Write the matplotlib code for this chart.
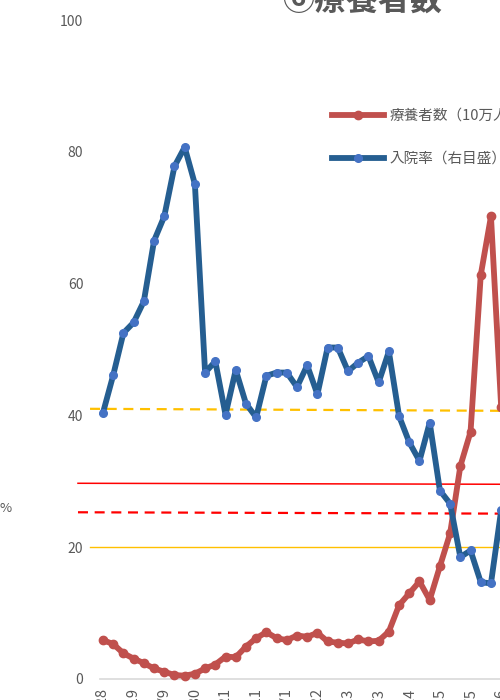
import matplotlib
matplotlib.use("Agg")
import matplotlib.pyplot as plt
import numpy as np

plt.rcParams['font.family'] = ['Noto Sans CJK JP', 'DejaVu Sans']

# ---- data ----
week_labels = ["4/28", "5/19", "6/9", "6/30", "7/21", "8/11", "9/1", "9/22",
               "10/13", "11/3", "11/24", "12/15", "1/5", "1/26"]
patients_per_100k = [5.9, 5.3, 3.9, 3.1, 2.4, 1.6, 1.1, 0.6, 0.5, 0.8,
                     1.6, 2.2, 3.4, 3.3, 4.9, 6.2, 7.1, 6.2, 5.9, 6.6,
                     6.4, 7.0, 5.7, 5.5, 5.4, 6.0, 5.7, 5.8, 7.2, 11.2,
                     13.0, 14.8, 12.0, 17.1, 22.1, 32.3, 37.5, 61.3, 70.2, 41.3]
hospital_rate = [40.4, 46.1, 52.5, 54.1, 57.3, 66.5, 70.2, 77.8, 80.7, 75.1,
                 46.5, 48.2, 40.1, 46.9, 41.8, 39.7, 46.0, 46.5, 46.5, 44.3,
                 47.6, 43.2, 50.3, 50.3, 46.7, 48.0, 49.0, 45.0, 49.7, 39.9,
                 35.9, 33.1, 38.9, 28.6, 26.6, 18.5, 19.5, 14.7, 14.5, 25.6]
# reference lines: (start index, start value, end value)
ref_lines_start = [-1.27, -2.45, -2.45, -1.27]
ref_lines_v0 = [41.0, 29.7, 25.3, 20.1]
ref_lines_v1 = [40.63, 29.52, 25.05, 20.1]
ref_colors = ["#FFC000", "#FF0000", "#FF0000", "#FFC000"]
ref_styles = [(0, (4.5, 3)), "-", (0, (4.5, 3)), "-"]
ref_widths = [1.6, 1.1, 1.6, 1.0]

y_ticks = [0, 20, 40, 60, 80, 100]

W, H = 500, 700
fig = plt.figure(figsize=(5, 7), dpi=100)
ax = fig.add_axes([100 / W, 21 / H, 500 / W, 659 / H])
ax2 = ax.twinx()

x = np.arange(len(patients_per_100k))
tick_pos = np.arange(0, len(x), 3)

gray = "#595959"
for a in (ax, ax2):
    a.set_xlim(-0.294, 48.68)
    a.set_ylim(0, 100)
    for s in a.spines.values():
        s.set_visible(False)
ax.spines['bottom'].set_visible(True)
ax.spines['bottom'].set_color("#D9D9D9")
ax.spines['bottom'].set_linewidth(1.2)

ax.set_yticks(y_ticks)
ax.set_yticklabels([str(v) for v in y_ticks])
ax.tick_params(axis='y', length=0, pad=12, labelsize=10, labelcolor=gray)
ax.set_xticks(tick_pos)
ax.set_xticklabels(week_labels, rotation=90, va='top')
ax.tick_params(axis='x', length=0, pad=6.5, labelsize=10.5, labelcolor=gray)
ax2.set_yticks([])

# reference lines
for xs, v0, v1, c, ls, lw in zip(ref_lines_start, ref_lines_v0, ref_lines_v1,
                                  ref_colors, ref_styles, ref_widths):
    ax.plot([xs, 48.0], [v0, v1], color=c, linestyle=ls, linewidth=lw,
            clip_on=False, zorder=1)

red, = ax.plot(x, patients_per_100k, color="#C0504D", linewidth=4.2,
               marker='o', markersize=6, markerfacecolor="#C0504D",
               markeredgecolor="#C0504D", zorder=3, clip_on=False,
               label="療養者数（10万人あたり）")
blue, = ax2.plot(x, hospital_rate, color="#255E91", linewidth=4.2,
                 marker='o', markersize=5.5, markerfacecolor="#4472C4",
                 markeredgecolor="#4472C4", zorder=3, clip_on=False,
                 label="入院率（右目盛）")

leg = fig.legend(handles=[red, blue], loc='upper left',
                 bbox_to_anchor=(326 / W, 1 - 103 / H),
                 frameon=False, fontsize=10.5, handlelength=3.6,
                 handletextpad=0.35, labelspacing=2.0, numpoints=1,
                 borderaxespad=0)
for t in leg.get_texts():
    t.set_color(gray)

fig.text(362 / W, 1 - 1 / H, "⑥療養者数", ha='center', va='center',
         fontsize=23, fontweight='bold', color=gray)
fig.text(0 / W, 1 - 509 / H, "%", ha='left', va='center', fontsize=9.5,
         color=gray)

fig.savefig("out.png", dpi=100)
